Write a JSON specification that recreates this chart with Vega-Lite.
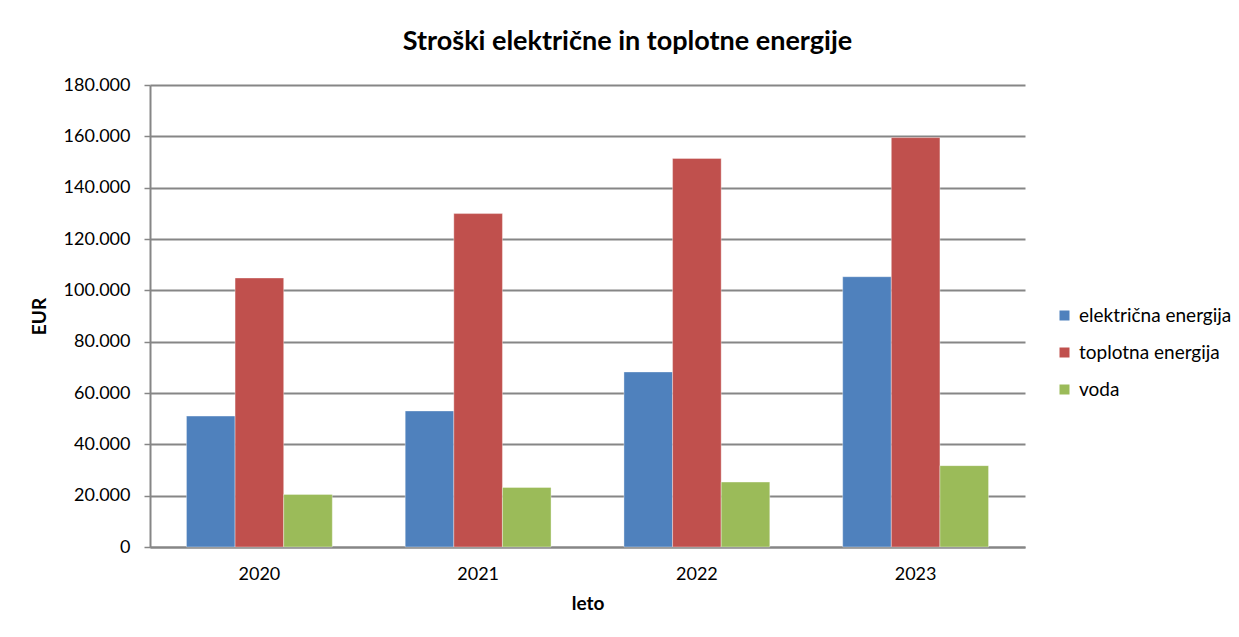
{
  "$schema": "https://vega.github.io/schema/vega-lite/v6.json",
  "autosize": {"type": "none"},
  "width": 875,
  "height": 462,
  "padding": {"left": 150, "top": 85, "right": 214, "bottom": 90},
  "background": "white",
  "title": {
    "text": "Stroški električne in toplotne energije",
    "font": "Lato",
    "fontSize": 27,
    "fontWeight": "bold",
    "color": "#000000",
    "anchor": "middle",
    "dx": 40,
    "offset": 20
  },
  "data": {
    "values": [
      {"leto": "2020", "vrsta": "električna energija", "EUR": 51000},
      {"leto": "2020", "vrsta": "toplotna energija", "EUR": 104800},
      {"leto": "2020", "vrsta": "voda", "EUR": 20500},
      {"leto": "2021", "vrsta": "električna energija", "EUR": 53000},
      {"leto": "2021", "vrsta": "toplotna energija", "EUR": 129900},
      {"leto": "2021", "vrsta": "voda", "EUR": 23200},
      {"leto": "2022", "vrsta": "električna energija", "EUR": 68200},
      {"leto": "2022", "vrsta": "toplotna energija", "EUR": 151400},
      {"leto": "2022", "vrsta": "voda", "EUR": 25300},
      {"leto": "2023", "vrsta": "električna energija", "EUR": 105300},
      {"leto": "2023", "vrsta": "toplotna energija", "EUR": 159500},
      {"leto": "2023", "vrsta": "voda", "EUR": 31700}
    ]
  },
  "mark": {"type": "bar", "stroke": "#ffffff", "strokeWidth": 0.6, "strokeOpacity": 0.6},
  "encoding": {
    "x": {
      "field": "leto",
      "type": "nominal",
      "title": "leto",
      "scale": {"paddingInner": 0.3333, "paddingOuter": 0.1667},
      "axis": {
        "labelAngle": 0,
        "labelFont": "Lato",
        "labelFontSize": 18,
        "labelColor": "#000000",
        "labelPadding": 18,
        "ticks": false,
        "domainColor": "#868686",
        "domainWidth": 2,
        "titleFont": "Lato",
        "titleFontSize": 19,
        "titleFontWeight": "bold",
        "titleColor": "#000000",
        "titlePadding": 11
      }
    },
    "xOffset": {"field": "vrsta", "type": "nominal", "sort": ["električna energija", "toplotna energija", "voda"]},
    "y": {
      "field": "EUR",
      "type": "quantitative",
      "title": "EUR",
      "scale": {"domain": [0, 180000], "nice": false},
      "axis": {
        "values": [0, 20000, 40000, 60000, 80000, 100000, 120000, 140000, 160000, 180000],
        "format": ",d",
        "labelFont": "Lato",
        "labelFontSize": 18,
        "labelColor": "#000000",
        "labelPadding": 14,
        "tickSize": 6,
        "tickColor": "#868686",
        "tickWidth": 1.5,
        "domainColor": "#868686",
        "domainWidth": 2,
        "gridColor": "#868686",
        "gridWidth": 1.8,
        "titleFont": "Lato",
        "titleFontSize": 19,
        "titleFontWeight": "bold",
        "titleColor": "#000000",
        "titlePadding": 14
      }
    },
    "color": {
      "field": "vrsta",
      "type": "nominal",
      "sort": ["električna energija", "toplotna energija", "voda"],
      "scale": {"range": ["#4F81BD", "#C0504D", "#9BBB59"]},
      "legend": {
        "title": null,
        "orient": "none",
        "legendX": 905,
        "legendY": 221,
        "symbolType": "square",
        "symbolSize": 100,
        "symbolStrokeWidth": 0,
        "labelFont": "Lato",
        "labelFontSize": 19,
        "labelColor": "#000000",
        "labelOffset": 5,
        "rowPadding": 17
      }
    }
  },
  "config": {
    "locale": {"number": {"decimal": ",", "thousands": ".", "grouping": [3], "currency": ["", " €"]}},
    "view": {"stroke": null}
  }
}
